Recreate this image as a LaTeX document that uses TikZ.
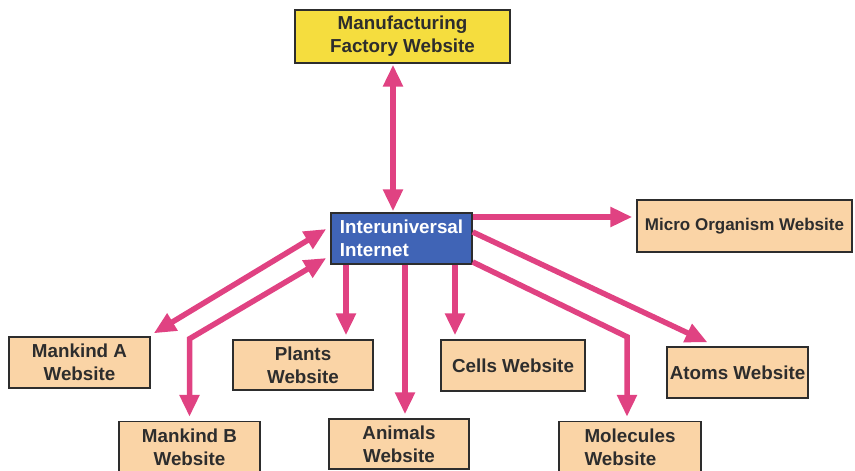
\documentclass[tikz,border=0pt]{standalone}
\usepackage{fontspec}
\setmainfont{Liberation Sans}
\usetikzlibrary{arrows.meta,calc,positioning}

\definecolor{linkpink}{RGB}{224,66,130}
\definecolor{boxline}{RGB}{45,45,45}
\definecolor{txtgray}{RGB}{45,45,45}
\definecolor{peach}{RGB}{250,212,166}
\definecolor{factoryyellow}{RGB}{245,221,62}
\definecolor{netblue}{RGB}{64,100,182}

\begin{document}
\begin{tikzpicture}[
        x=1pt, y=-1pt,
        every node/.style={draw=boxline, line width=1.4pt, inner sep=0pt, align=center, text=txtgray,
            font=\bfseries\fontsize{18.8}{23}\selectfont},
        site/.style={fill=peach, minimum width=141pt, minimum height=51pt},
        link/.style={draw=linkpink, line width=5.5pt, -{Triangle[length=22pt,width=19pt]}},
        twoway/.style={link, {Triangle[length=22pt,width=19pt]}-{Triangle[length=22pt,width=19pt]}}
    ]

    \useasboundingbox (0,0) rectangle (855,471);

    % Nodes
    \node (factory) at (402.5,36.5) [fill=factoryyellow, minimum width=215pt, minimum height=53pt]
        {Manufacturing\\ Factory Website};

    \node (net) at (401.5,238.5) [fill=netblue, text=white, align=left, minimum width=141pt, minimum height=51pt]
        {Interuniversal\\ Internet};

    \node (micro) at (744.5,226) [site, minimum width=215pt, minimum height=52pt,
        font=\bfseries\fontsize{17}{22}\selectfont] {Micro Organism Website};

    \node (mankA) at (79.5,362.5) [site] {Mankind A\\ Website};
    \node (plants) at (303,365) [site, minimum width=140pt, minimum height=50pt] {Plants\\ Website};
    \node (cells) at (513,365.5) [site, minimum width=144pt] {Cells Website};
    \node (atoms) at (737.5,372.5) [site] {Atoms Website};

    \node (mankB) at (189.5,447) [site] {Mankind B\\ Website};
    \node (animals) at (399,444) [site, minimum width=140pt, minimum height=50pt] {Animals\\ Website};
    \node (molecules) at (630,447) [site, align=left, minimum width=142pt] {Molecules\\ Website};

    % Edges
    \draw[twoway] ($(factory.south)+(-9.5,1)$) -- ($(net.north)+(-8.5,-1)$);
    \draw[link] ($(net.east)+(0,-21.5)$) -- ($(micro.west)+(-4,-9)$);

    \draw[twoway] ($(mankA.north east)+(3,-3)$) -- ($(net.west)+(-4,-9.5)$);
    \draw[twoway] ($(net.west)+(-4,19.5)$) -- ($(mankB.north)+(0,-82)$) -- ($(mankB.north)+(0,-4)$);

    \draw[link] ($(net.south)+(-55.5,0)$) -- ($(plants.north)+(43,-4)$);
    \draw[link] ($(net.south)+(3.5,0)$) -- ($(animals.north)+(6,-4)$);
    \draw[link] ($(net.south)+(53.5,0)$) -- ($(cells.north)+(-58,-4)$);

    \draw[link] ($(net.east)+(0,23.5)$) -- ($(molecules.north)+(-3,-84)$) -- ($(molecules.north)+(-3,-4)$);
    \draw[link] ($(net.east)+(0,-6.5)$) -- ($(atoms.north)+(-30,-4)$);

\end{tikzpicture}
\end{document}
